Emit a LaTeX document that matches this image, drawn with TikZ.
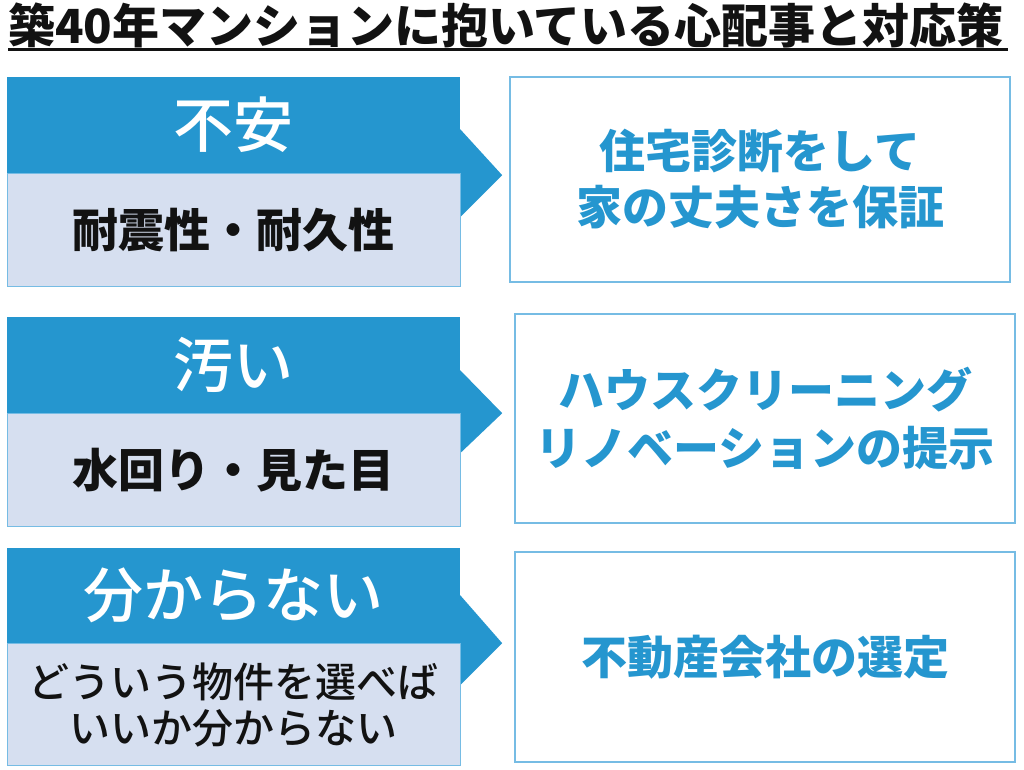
\documentclass[tikz,border=0pt]{standalone}
\usepackage{fontspec}
\setmainfont{Noto Sans CJK JP}
\newfontfamily\jpmed{Noto Sans CJK JP Medium}
\usetikzlibrary{positioning,calc}
\definecolor{headc}{RGB}{37,150,207}
\definecolor{bandc}{RGB}{214,223,240}
\definecolor{framec}{RGB}{118,188,228}
\definecolor{inkc}{RGB}{18,18,18}

\begin{document}
\begin{tikzpicture}[x=1pt,y=-1pt,
  head/.style={fill=headc,text=white,minimum width=453pt,inner sep=0pt,
    font=\fontsize{60}{66}\selectfont\jpmed},
  band/.style={fill=bandc,draw=framec,line width=1pt,text=inkc,minimum width=453pt,
    inner sep=0pt,align=center,font=\fontsize{46}{54}\selectfont\bfseries},
  answer/.style={draw=framec,line width=1.6pt,text=headc,minimum width=500pt,
    inner sep=0pt,align=center,font=\fontsize{46}{56}\selectfont\bfseries}]
  \useasboundingbox (0,0) rectangle (1024,769);
  % title
  \node[inkc,font=\fontsize{47}{52}\selectfont\bfseries] (title) at (506,25)
    {築40年マンションに抱いている心配事と対応策};
  \draw[inkc,line width=3pt] (8,49) -- (1008,49);
  % first row
  \node[head,minimum height=96pt] (h1) at (233.5,125) {不安};
  \fill[headc] ($(h1.south east)+(0,-44)$) -- ($(h1.south east)+(42,2)$)
    -- ($(h1.south east)+(0,44)$) -- cycle;
  \node[band,minimum height=113pt,below=0pt of h1] (b1) {耐震性・耐久性};
  \node[answer,minimum height=205pt] (a1) at (760,179.5)
    {住宅診断をして\\家の丈夫さを保証};
  % second row
  \node[head,minimum height=96pt] (h2) at (233.5,365) {汚い};
  \fill[headc] ($(h2.south east)+(0,-43)$) -- ($(h2.south east)+(42,0)$)
    -- ($(h2.south east)+(0,40)$) -- cycle;
  \node[band,minimum height=113pt,below=0pt of h2] (b2) {水回り・見た目};
  \node[answer,minimum height=209pt,font=\fontsize{46}{58}\selectfont\bfseries]
    (a2) at (765,418.5) {ハウスクリーニング\\リノベーションの提示};
  % third row
  \node[head,minimum height=95pt] (h3) at (233.5,595.5) {分からない};
  \fill[headc] ($(h3.south east)+(0,-48)$) -- ($(h3.south east)+(42,0)$)
    -- ($(h3.south east)+(0,42)$) -- cycle;
  \node[band,minimum height=122pt,below=0pt of h3,font=\fontsize{41}{46}\selectfont\jpmed]
    (b3) {どういう物件を選べば\\いいか分からない};
  \node[answer,minimum height=210pt] (a3) at (765,657) {不動産会社の選定};
\end{tikzpicture}
\end{document}
